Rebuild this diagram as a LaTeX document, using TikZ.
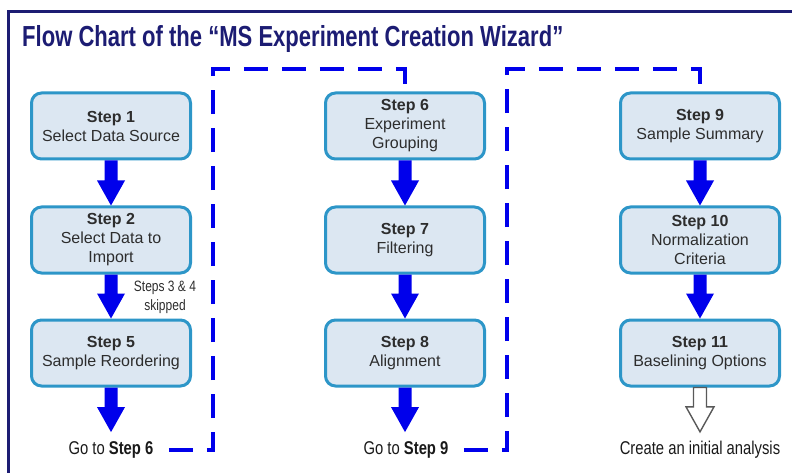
\documentclass[tikz,border=0pt]{standalone}
\usepackage{fontspec}
\setmainfont{Liberation Sans}
\newfontfamily\condfont[FakeStretch=0.8]{Liberation Sans}
\newfontfamily\titlefont[FakeStretch=0.76]{Liberation Sans}
\usetikzlibrary{calc}

\definecolor{navy}{RGB}{28,28,115}
\definecolor{boxline}{RGB}{45,150,200}
\definecolor{boxfill}{RGB}{220,231,242}
\definecolor{flowblue}{RGB}{0,0,235}
\definecolor{textgray}{RGB}{45,45,45}
\definecolor{notegray}{RGB}{25,25,25}

\begin{document}
\begin{tikzpicture}[
  x=1pt, y=-1pt,
  stepbox/.style = {draw=boxline, fill=boxfill, line width=3pt, rounded corners=10pt,
                    minimum width=159pt, minimum height=66pt, align=center,
                    text=textgray, font=\fontsize{16}{19}\selectfont},
  note/.style = {text=notegray, align=center, font=\condfont\fontsize{18.5}{21}\selectfont},
  fat/.style = {to path={let \p1=(\tikztostart), \p2=(\tikztotarget) in
                  (\x1-6.5pt,\y1) -- (\x1-6.5pt,\y2+25pt) -- (\x1-14pt,\y2+25pt) -- (\x1,\y2)
                  -- (\x1+14pt,\y2+25pt) -- (\x1+6.5pt,\y2+25pt) -- (\x1+6.5pt,\y1) -- cycle}},
  flow/.style = {fat, fill=flowblue},
  jump/.style = {draw=flowblue, line width=3.4pt, dash pattern=on 24pt off 14pt}
]
  \useasboundingbox (0,0) rectangle (792,473);

  % Frame and heading
  \draw[navy, line width=3pt] (792,12) -| (8,473);
  \node[anchor=base west, inner sep=0, text=navy,
        font=\titlefont\bfseries\fontsize{29}{32}\selectfont] (title) at (22,47)
        {Flow Chart of the “MS Experiment Creation Wizard”};

  % First column
  \node[stepbox] (step1) at (111,126) {\textbf{Step 1}\\Select Data Source};
  \node[stepbox] (step2) at (111,240) {\textbf{Step 2}\\Select Data to\\Import};
  \node[stepbox] (step5) at (111,353) {\textbf{Step 5}\\Sample Reordering};
  \node[note] (go6) at (111,450) {Go to \textbf{Step 6}};
  \node[note, text=textgray, font=\condfont\fontsize{15}{19}\selectfont] (skip) at (165,297) {Steps 3 \& 4\\skipped};

  % Second column
  \node[stepbox] (step6) at (405,126) {\textbf{Step 6}\\Experiment\\Grouping};
  \node[stepbox] (step7) at (405,240) {\textbf{Step 7}\\Filtering};
  \node[stepbox] (step8) at (405,353) {\textbf{Step 8}\\Alignment};
  \node[note] (go9) at (406,450) {Go to \textbf{Step 9}};

  % Third column
  \node[stepbox] (step9)  at (700,126) {\textbf{Step 9}\\Sample Summary};
  \node[stepbox] (step10) at (700,240) {\textbf{Step 10}\\Normalization\\Criteria};
  \node[stepbox] (step11) at (700,353) {\textbf{Step 11}\\Baselining Options};
  \node[note] (create) at (700,450) {Create an initial analysis};

  % Corners of the jumps between columns
  \coordinate (hop6) at (213,69);
  \coordinate (hop9) at (507,69);

  % Arrows
  \path[flow] (step1.south) to (step2.north);
  \path[flow] (step2.south) to (step5.north);
  \path[flow] (step5.south) to ([yshift=6pt]go6.north);
  \path[flow] (step6.south) to (step7.north);
  \path[flow] (step7.south) to (step8.north);
  \path[flow] (step8.south) to ([yshift=6pt]go9.north);
  \path[flow] (step9.south) to (step10.north);
  \path[flow] (step10.south) to (step11.north);
  \path[fat, draw=black!65, fill=white, line width=1.4pt] (step11.south) to ([yshift=6pt]create.north);

  \draw[jump, shorten <=12pt] (go6.east) -| (hop6) -| (step6.north);
  \draw[jump, shorten <=12pt] (go9.east) -| (hop9) -| (step9.north);

\end{tikzpicture}
\end{document}
